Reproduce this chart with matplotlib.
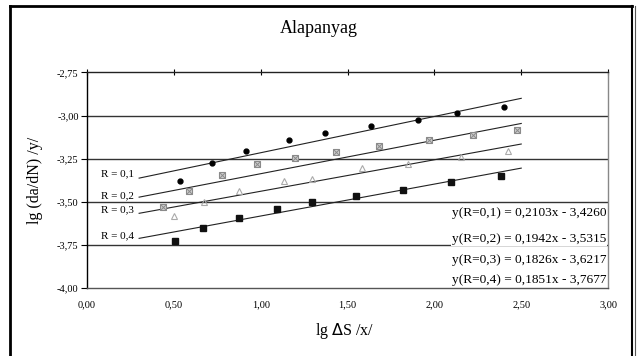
import matplotlib
matplotlib.use("Agg")
from matplotlib import pyplot as plt
from matplotlib.lines import Line2D
import numpy as np

# measured points, lg dS (x) and lg da/dN (y)
r01_x = [0.533, 0.720, 0.918, 1.162, 1.368, 1.637, 1.903, 2.133, 2.402]
r01_y = [-3.377, -3.275, -3.204, -3.140, -3.101, -3.063, -3.025, -2.986, -2.948]
r02_x = [0.440, 0.585, 0.777, 0.979, 1.200, 1.431, 1.681, 1.969, 2.220, 2.475]
r02_y = [-3.531, -3.438, -3.342, -3.280, -3.246, -3.213, -3.179, -3.144, -3.111, -3.086]
r03_x = [0.498, 0.671, 0.873, 1.133, 1.293, 1.585, 1.848, 2.152, 2.422]
r03_y = [-3.583, -3.502, -3.438, -3.381, -3.367, -3.303, -3.280, -3.242, -3.208]
r04_x = [0.508, 0.668, 0.873, 1.095, 1.293, 1.546, 1.819, 2.095, 2.383]
r04_y = [-3.730, -3.650, -3.592, -3.544, -3.500, -3.467, -3.429, -3.386, -3.348]

# trendline coefficients from the chart
r_labels = ["0,1", "0,2", "0,3", "0,4"]
slopes = [0.2103, 0.1942, 0.1826, 0.1851]
intercepts = [-3.4260, -3.5315, -3.6217, -3.7677]
slope_txt = ["0,2103", "0,1942", "0,1826", "0,1851"]
inter_txt = ["3,4260", "3,5315", "3,6217", "3,7677"]
trend_range = [0.3, 2.5]

x_ticks = [0.0, 0.5, 1.0, 1.5, 2.0, 2.5, 3.0]
y_ticks = [-4.0, -3.75, -3.5, -3.25, -3.0, -2.75]

plt.rcParams['font.family'] = ['Liberation Serif', 'DejaVu Serif']

fig = plt.figure(figsize=(6.37, 3.56), dpi=100)
ax = fig.add_axes([0.1366, 0.191, 0.818, 0.6056])

# gridlines
for yv in y_ticks[1:-1]:
    ax.axhline(yv, color='#333333', lw=1.0, zorder=1)

# trendlines
xs = np.array(trend_range)
for k in range(4):
    ax.plot(xs, slopes[k] * xs + intercepts[k], color='#222222', lw=0.8, zorder=2)

# data points
ax.plot(r01_x, r01_y, 'o', color='black', ms=3.5, zorder=3)
ax.plot(r02_x, r02_y, 's', mfc='#cfcfcf', mec='#8a8a8a', ms=5, mew=0.8, zorder=3)
ax.plot(r02_x, r02_y, 'x', color='#8a8a8a', ms=4, mew=0.7, zorder=4)
ax.plot(r03_x, r03_y, '^', mfc='none', mec='#aaaaaa', ms=5, mew=0.8, zorder=3)
ax.plot(r04_x, r04_y, 's', color='#111111', ms=4.5, zorder=3)

# R labels at the left of trendlines
r_label_y = [-3.335, -3.465, -3.545, -3.695]
for k in range(4):
    ax.text(0.27, r_label_y[k], "R = " + r_labels[k], fontsize=8, ha='right', va='center')

# equations
eq_y = [-3.563, -3.715, -3.838, -3.953]
for k in range(4):
    ax.text(2.99, eq_y[k], "y(R=%s) = %sx - %s" % (r_labels[k], slope_txt[k], inter_txt[k]),
            fontsize=9.6, ha='right', va='center', zorder=4,
            bbox=dict(facecolor='white', edgecolor='none', pad=0.6))

ax.set_xlim(0, 3)
ax.set_ylim(-4.0, -2.75)
ax.set_xticks(x_ticks)
ax.set_yticks(y_ticks)
ax.set_xticklabels([("%.2f" % v).replace('.', ',') for v in x_ticks])
ax.set_yticklabels([("%.2f" % v).replace('.', ',') for v in y_ticks])
ax.tick_params(axis='x', bottom=False, top=True, labelbottom=True, labeltop=False,
               direction='inout', length=4, labelsize=7.5, pad=7)
ax.tick_params(axis='y', direction='out', length=4, labelsize=7.5, pad=2)

ax.spines['left'].set_color('black')
ax.spines['top'].set_color('#222222')
ax.spines['bottom'].set_color('#555555')
ax.spines['right'].set_color('#888888')
for s in ax.spines.values():
    s.set_linewidth(1.0)
    s.set_zorder(6)

ax.set_ylabel("lg (da/dN) /y/", fontsize=11.5)
ax.set_xlabel("lg $\\Delta$S /x/", fontsize=11.5)
ax.yaxis.set_label_coords(-0.085, 0.50)
ax.xaxis.set_label_coords(0.495, -0.155)
fig.text(0.5, 0.921, "Alapanyag", fontsize=13, ha='center', va='center')

# outer chart frame
fig.add_artist(Line2D([10 / 637, 10 / 637], [0, 1 - 6 / 356], color='black', lw=2.0))
fig.add_artist(Line2D([10 / 637, 632 / 637], [1 - 6 / 356, 1 - 6 / 356], color='black', lw=2.0))
fig.add_artist(Line2D([632 / 637, 632 / 637], [0, 1 - 6 / 356], color='black', lw=1.5))
fig.add_artist(Line2D([635 / 637, 635 / 637], [0, 1 - 6 / 356], color='#555555', lw=0.8))

fig.savefig("out.png", dpi=100)
